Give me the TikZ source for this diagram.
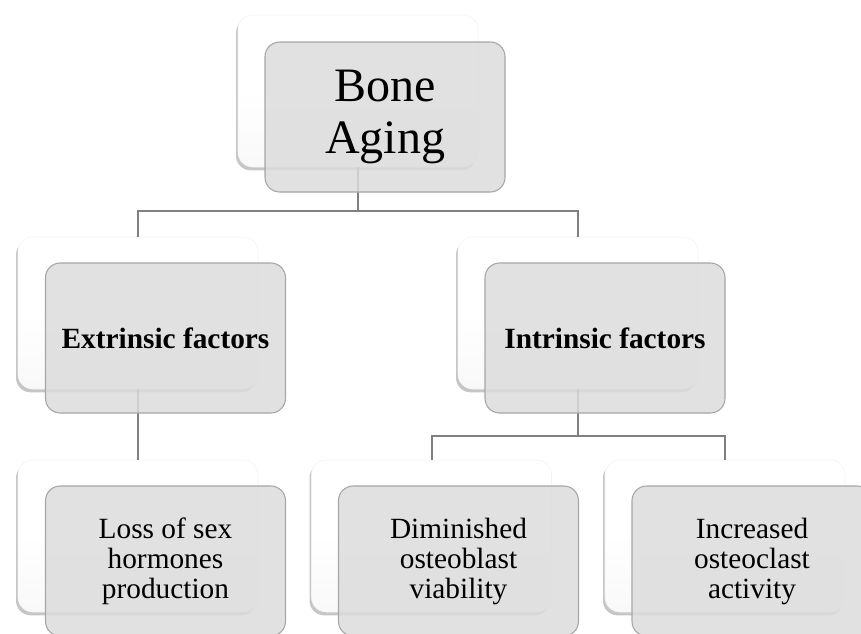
\documentclass[tikz,border=0pt]{standalone}
\usepackage{fontspec}
\setmainfont{Liberation Serif}
\usepackage{xcolor}
\usepackage{tikz}
\usetikzlibrary{positioning}
\usetikzlibrary{shadows}

\definecolor{cardfill}{HTML}{DCDCDC}
\definecolor{carddraw}{HTML}{A6A6A6}
\definecolor{linkgray}{HTML}{808080}

\begin{document}
\begin{tikzpicture}[
				x=0.75pt, y=-0.75pt,
				backcard/.style={rectangle, rounded corners=11pt, draw=gray!10, line width=0.4pt,
						top color=white, bottom color=gray!5, middle color=white,
						minimum width=180pt, minimum height=114pt,
						drop shadow={shadow xshift=-1.5pt, shadow yshift=-2.5pt, opacity=0.45}},
				frontcard/.style={rectangle, rounded corners=11pt, draw=carddraw, line width=0.8pt,
						fill=cardfill, fill opacity=0.85, text opacity=1,
						minimum width=180pt, minimum height=112.5pt,
						align=center, text centered},
				link/.style={draw=linkgray, line width=1.5pt}
			]
			\useasboundingbox (0,0) rectangle (861,633);

			% Back cards (white, with shadow)
			\node[backcard] (boneB) at (358,91) {};
			\node[backcard] (extB) at (138,313) {};
			\node[backcard] (intB) at (578,313) {};
			\node[backcard] (sexB) at (138,536) {};
			\node[backcard] (obB) at (431.5,536) {};
			\node[backcard] (ocB) at (725,536) {};

			% Connectors
			\coordinate (j1) at (358,211);
			\coordinate (j2) at (578,436);
			\draw[link] (boneB.south) -- (j1) -| (extB.north);
			\draw[link] (j1) -| (intB.north);
			\draw[link] (extB.south) -- (sexB.north);
			\draw[link] (intB.south) -- (j2) -| (obB.north);
			\draw[link] (j2) -| (ocB.north);

			% Front cards (grey, with text)
			\node[frontcard, font=\fontsize{36}{39}\selectfont] (bone) at (385,117) {Bone\\Aging};
			\node[frontcard, font=\fontsize{22}{26}\selectfont\bfseries] (ext) at (165.5,338) {Extrinsic factors};
			\node[frontcard, font=\fontsize{22}{26}\selectfont\bfseries] (int) at (605,338) {Intrinsic factors};
			\node[frontcard, font=\fontsize{22}{22.5}\selectfont] (sex) at (165.5,561) {Loss of sex\\hormones\\production};
			\node[frontcard, font=\fontsize{22}{22.5}\selectfont] (ob) at (458.5,561) {Diminished\\osteoblast\\viability};
			\node[frontcard, font=\fontsize{22}{22.5}\selectfont] (oc) at (752,561) {Increased\\osteoclast\\activity};

		\end{tikzpicture}
\end{document}
